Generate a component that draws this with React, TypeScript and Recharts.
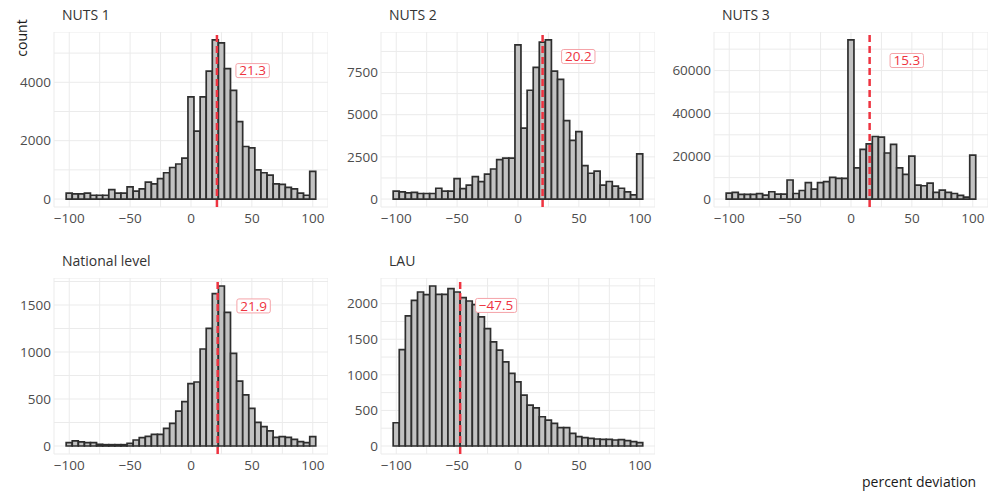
import React from 'react';
import {
  BarChart,
  Bar,
  XAxis,
  YAxis,
  CartesianGrid,
  ReferenceLine,
  ReferenceDot,
} from 'recharts';

// bin centres (width 5) shared by every facet
const binCenters = [
  -100, -95, -90, -85, -80, -75, -70, -65, -60, -55, -50, -45, -40, -35, -30, -25, -20, -15, -10, -5,
  0, 5, 10, 15, 20, 25, 30, 35, 40, 45, 50, 55, 60, 65, 70, 75, 80, 85, 90, 95, 100,
];

const nuts1Counts = [
  200, 180, 180, 200, 130, 130, 130, 320, 200, 200, 420, 270, 350, 580, 520, 700, 900, 1080, 1200, 1400,
  3500, 2330, 3500, 4380, 5450, 5350, 4470, 3720, 2650, 1800, 1750, 1000, 900, 820, 520, 500, 400, 350, 200, 130,
  950,
];

const nuts2Counts = [
  470, 430, 370, 390, 330, 330, 330, 640, 470, 470, 1210, 620, 820, 1330, 1030, 1480, 1780, 2340, 2420, 2420,
  9140, 4200, 6450, 7810, 9300, 9430, 7580, 7090, 4650, 3480, 4000, 1980, 1530, 1660, 820, 1040, 760, 640, 420, 250,
  2680,
];

const nuts3Counts = [
  2800, 3100, 2200, 2200, 2200, 2500, 1800, 3400, 2300, 2300, 8900, 2600, 4000, 7700, 4600, 7700, 8100, 10100, 9700, 9700,
  74300, 14600, 23200, 25800, 29200, 28900, 21500, 25500, 14600, 11500, 20000, 6500, 6200, 7400, 3100, 4200, 3100, 2600, 1700, 900,
  20500,
];

const nationalCounts = [
  35, 55, 43, 35, 35, 18, 14, 14, 14, 14, 28, 64, 89, 103, 124, 124, 188, 241, 372, 472,
  663, 681, 1032, 1252, 1620, 1702, 1422, 986, 691, 543, 401, 252, 206, 160, 92, 99, 92, 71, 46, 35,
  99,
];

const lauCounts = [
  327, 1355, 1827, 2047, 2164, 2126, 2248, 2131, 2131, 2210, 2164, 2084, 2037, 1986, 1813, 1650, 1463, 1346, 1182, 1019,
  902, 715, 575, 537, 411, 364, 318, 257, 257, 178, 131, 117, 107, 98, 93, 93, 84, 89, 75, 61,
  47,
];

const panelTitles = ['NUTS 1', 'NUTS 2', 'NUTS 3', 'National level', 'LAU'];
const panelMeans = [21.3, 20.2, 15.3, 21.9, -47.5];
const labelX = [50.6, 49.5, 45.8, 51.4, -18];
const labelY = [4400, 8450, 64700, 1490, 1975];

const yTicksNuts1 = [0, 1000, 2000, 3000, 4000, 5000];
const yMajorNuts1 = [0, 2000, 4000];
const yTicksNuts2 = [0, 1250, 2500, 3750, 5000, 6250, 7500, 8750];
const yMajorNuts2 = [0, 2500, 5000, 7500];
const yTicksNuts3 = [0, 10000, 20000, 30000, 40000, 50000, 60000, 70000];
const yMajorNuts3 = [0, 20000, 40000, 60000];
const yTicksNational = [0, 250, 500, 750, 1000, 1250, 1500, 1750];
const yMajorNational = [0, 500, 1000, 1500];
const yTicksLau = [0, 250, 500, 750, 1000, 1250, 1500, 1750, 2000, 2250];
const yMajorLau = [0, 500, 1000, 1500, 2000];

const xTicks = [-100, -75, -50, -25, 0, 25, 50, 75, 100];
const xMajor = [-100, -50, 0, 50, 100];

const FONT = '"Open Sans", "Noto Sans", sans-serif';
const TICK_COLOR = '#4d4d4d';
const RED = '#ee3340';
const PLOT_W = 274;
const Y_AXIS_W = 50;
const X_AXIS_H = 24;

const fmt = (v: number) => (v < 0 ? '\u2212' + Math.abs(v) : String(v));

function MeanLabel(props: any) {
  const { cx, cy, text } = props;
  if (cx == null || cy == null) return null;
  const w = text.length * 7.6 + 3;
  const h = 14;
  return (
    <g>
      <rect
        x={cx - w / 2}
        y={cy - h / 2}
        width={w}
        height={h}
        rx={2}
        fill="#fff"
        stroke="#f5a3a8"
        strokeWidth={1}
      />
      <text
        x={cx}
        y={cy}
        dy="0.36em"
        textAnchor="middle"
        fontSize={13.5}
        fontFamily={FONT}
        fill={RED}
      >
        {text}
      </text>
    </g>
  );
}

interface PanelProps {
  idx: number;
  counts: number[];
  yTicks: number[];
  yMajor: number[];
  left: number;
  top: number;
  height: number;
}

function HistPanel({ idx, counts, yTicks, yMajor, left, top, height }: PanelProps) {
  const rows = binCenters.map((x, i) => ({ x, count: counts[i] }));
  const maxCount = Math.max(...counts);
  const mean = panelMeans[idx];
  return (
    <>
      <div
        style={{
          position: 'absolute',
          left: left + 8,
          top: top - 26,
          fontFamily: FONT,
          fontSize: 14,
          lineHeight: '18px',
          color: '#333',
          whiteSpace: 'nowrap',
        }}
      >
        {panelTitles[idx]}
      </div>
      <div style={{ position: 'absolute', left: left - Y_AXIS_W, top }}>
        <BarChart
          width={Y_AXIS_W + PLOT_W}
          height={height + X_AXIS_H}
          data={rows}
          margin={{ top: 0, right: 0, bottom: 0, left: 0 }}
          barCategoryGap={0}
          barGap={0}
        >
          <CartesianGrid stroke="#ebebeb" strokeWidth={1} />
          <XAxis
            dataKey="x"
            type="number"
            domain={[-112.5, 112.5]}
            ticks={xTicks}
            allowDataOverflow
            interval={0}
            axisLine={false}
            tickLine={false}
            tickSize={0}
            tickMargin={6}
            height={X_AXIS_H}
            tickFormatter={(v: number) => (xMajor.includes(v) ? fmt(v) : '')}
            tick={{ fill: TICK_COLOR, fontSize: 13.5, fontFamily: FONT }}
          />
          <YAxis
            type="number"
            domain={[-0.05 * maxCount, 1.05 * maxCount]}
            ticks={yTicks}
            allowDataOverflow
            interval={0}
            width={Y_AXIS_W}
            axisLine={false}
            tickLine={false}
            tickSize={0}
            tickMargin={3}
            tickFormatter={(v: number) => (yMajor.includes(v) ? String(v) : '')}
            tick={{ fill: TICK_COLOR, fontSize: 13.5, fontFamily: FONT }}
          />
          <Bar
            dataKey="count"
            fill="#c2c2c2"
            stroke="#2e2e2e"
            strokeWidth={1.7}
            isAnimationActive={false}
          />
          <ReferenceLine
            x={mean}
            stroke={RED}
            strokeWidth={2.5}
            strokeDasharray="7 4"
          />
          <ReferenceDot
            x={labelX[idx]}
            y={labelY[idx]}
            r={0}
            shape={(p: any) => <MeanLabel {...p} text={fmt(mean)} />}
          />
        </BarChart>
      </div>
    </>
  );
}

export default function App() {
  const colLeft = [54, 381, 714];
  const rowTop = [32, 278];
  return (
    <div
      style={{
        position: 'absolute',
        left: 0,
        top: 0,
        width: 991,
        height: 491,
        background: '#fff',
        fontFamily: FONT,
      }}
    >
      <div
        style={{
          position: 'absolute',
          left: 3,
          top: 38,
          transform: 'translate(0, -50%) rotate(-90deg)',
          transformOrigin: 'center',
          fontSize: 14,
          color: '#1a1a1a',
          lineHeight: '18px',
        }}
      >
        count
      </div>
      <HistPanel idx={0} counts={nuts1Counts} yTicks={yTicksNuts1} yMajor={yMajorNuts1} left={colLeft[0]} top={rowTop[0]} height={175} />
      <HistPanel idx={1} counts={nuts2Counts} yTicks={yTicksNuts2} yMajor={yMajorNuts2} left={colLeft[1]} top={rowTop[0]} height={175} />
      <HistPanel idx={2} counts={nuts3Counts} yTicks={yTicksNuts3} yMajor={yMajorNuts3} left={colLeft[2]} top={rowTop[0]} height={175} />
      <HistPanel idx={3} counts={nationalCounts} yTicks={yTicksNational} yMajor={yMajorNational} left={colLeft[0]} top={rowTop[1]} height={176} />
      <HistPanel idx={4} counts={lauCounts} yTicks={yTicksLau} yMajor={yMajorLau} left={colLeft[1]} top={rowTop[1]} height={176} />
      <div
        style={{
          position: 'absolute',
          left: 862,
          top: 473,
          fontSize: 14,
          lineHeight: '18px',
          color: '#1a1a1a',
          whiteSpace: 'nowrap',
        }}
      >
        percent deviation
      </div>
    </div>
  );
}
